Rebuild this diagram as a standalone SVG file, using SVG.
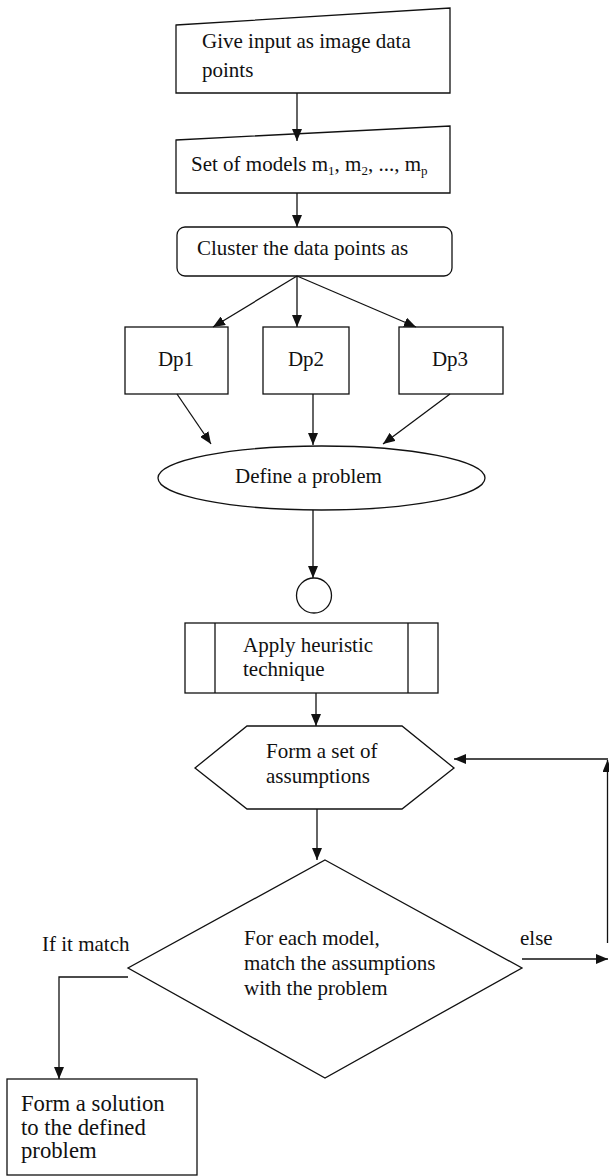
<svg xmlns="http://www.w3.org/2000/svg" width="609" height="1176" viewBox="0 0 609 1176" font-family="'Liberation Serif', 'Times New Roman', Tinos, 'DejaVu Serif', serif">
<style>
.s{fill:#fff;stroke:#111;stroke-width:1.3}
.c{fill:none;stroke:#111;stroke-width:1.3}
.t{font-family:'Liberation Serif','Times New Roman',Tinos,'DejaVu Serif',serif;font-size:21px;fill:#111}
.tb{font-family:'Liberation Serif','Times New Roman',Tinos,'DejaVu Serif',serif;font-size:22.7px;fill:#111}
</style>
<defs>
<marker id="ah" viewBox="0 0 12 10" refX="12" refY="5" markerWidth="12" markerHeight="10" markerUnits="userSpaceOnUse" orient="auto"><path d="M0,0 L12,5 L0,10 z" fill="#111"/></marker>
</defs>
<rect width="609" height="1176" fill="#fff"/>

<g id="input">
<polygon class="s" points="176,25 450,8 450,93 176,93"/>
<text class="t" x="202" y="48">Give input as image data</text>
<text class="t" x="202" y="77">points</text>
</g>

<g id="models">
<polygon class="s" points="176,140 450,126 450,193 176,193"/>
<text class="t" x="191" y="171">Set of models m<tspan font-size="13" dy="4">1</tspan><tspan dy="-4">, m</tspan><tspan font-size="13" dy="4">2</tspan><tspan dy="-4">, ..., m</tspan><tspan font-size="13" dy="4">p</tspan></text>
</g>

<g id="cluster">
<rect class="s" x="177" y="227" width="275" height="49" rx="8"/>
<text class="t" x="197" y="255">Cluster the data points as</text>
</g>

<g id="dp1">
<rect class="s" x="125" y="327" width="103" height="67"/>
<text class="t" x="176" y="366" text-anchor="middle">Dp1</text>
</g>
<g id="dp2">
<rect class="s" x="263" y="327" width="86" height="67"/>
<text class="t" x="306" y="366" text-anchor="middle">Dp2</text>
</g>
<g id="dp3">
<rect class="s" x="399" y="327" width="104" height="67"/>
<text class="t" x="450" y="366" text-anchor="middle">Dp3</text>
</g>

<g id="define">
<ellipse class="s" cx="321.5" cy="478" rx="163.5" ry="32"/>
<text class="t" x="235" y="483">Define a problem</text>
</g>

<g id="connector-circle">
<circle class="s" cx="314" cy="595.5" r="17.5"/>
</g>

<g id="heuristic">
<rect class="s" x="185" y="623" width="253" height="70"/>
<line class="c" x1="215" y1="623" x2="215" y2="693"/>
<line class="c" x1="408" y1="623" x2="408" y2="693"/>
<text class="t" x="243" y="652">Apply heuristic</text>
<text class="t" x="243" y="676">technique</text>
</g>

<g id="assumptions">
<polygon class="s" points="195,768 247,726 402,726 454,768 402,809 247,809"/>
<text class="t" x="266" y="758">Form a set of</text>
<text class="t" x="266" y="783">assumptions</text>
</g>

<g id="match">
<polygon class="s" points="325,860 522,968 325,1078 128,968"/>
<text class="t" x="244" y="945">For each model,</text>
<text class="t" x="244" y="970">match the assumptions</text>
<text class="t" x="244" y="995">with the problem</text>
</g>

<g id="solution">
<rect class="s" x="7" y="1079" width="190" height="96"/>
<text class="tb" x="21" y="1111">Form a solution</text>
<text class="tb" x="21" y="1135">to the defined</text>
<text class="tb" x="21" y="1158">problem</text>
</g>

<g id="connectors">
<line class="c" x1="297" y1="93" x2="297" y2="141" marker-end="url(#ah)"/>
<line class="c" x1="297" y1="193" x2="297" y2="227" marker-end="url(#ah)"/>
<line class="c" x1="297" y1="276" x2="213" y2="327" marker-end="url(#ah)"/>
<line class="c" x1="297" y1="276" x2="297" y2="327" marker-end="url(#ah)"/>
<line class="c" x1="297" y1="276" x2="416" y2="327" marker-end="url(#ah)"/>
<line class="c" x1="177" y1="394" x2="211" y2="444" marker-end="url(#ah)"/>
<line class="c" x1="313" y1="394" x2="313" y2="445" marker-end="url(#ah)"/>
<line class="c" x1="450" y1="394" x2="383" y2="444" marker-end="url(#ah)"/>
<line class="c" x1="313" y1="510" x2="313" y2="578" marker-end="url(#ah)"/>
<line class="c" x1="316" y1="693" x2="316" y2="726" marker-end="url(#ah)"/>
<line class="c" x1="317" y1="809" x2="317" y2="860" marker-end="url(#ah)"/>
<line class="c" x1="522" y1="959" x2="608" y2="959" marker-end="url(#ah)"/>
<line class="c" x1="607.5" y1="943" x2="607.5" y2="760" marker-end="url(#ah)"/>
<line class="c" x1="608" y1="759" x2="454" y2="759" marker-end="url(#ah)"/>
<polyline class="c" points="128,977 59,977 59,1079" marker-end="url(#ah)"/>
<text class="t" x="520" y="945">else</text>
<text class="t" x="42" y="951">If it match</text>
</g>
</svg>
